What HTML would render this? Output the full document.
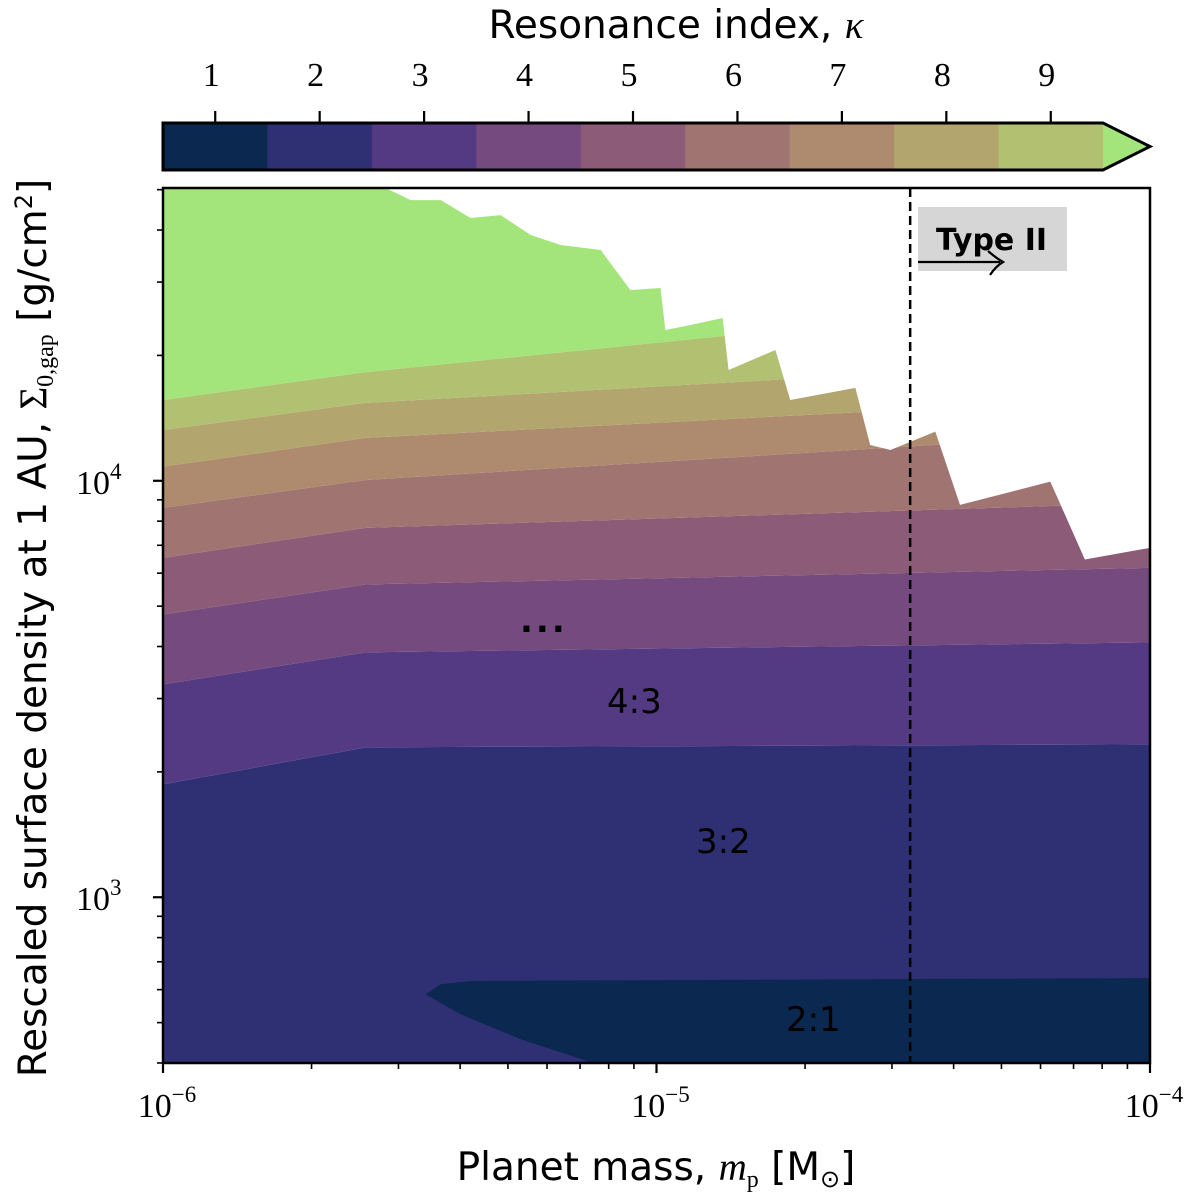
<!DOCTYPE html>
<html><head><meta charset="utf-8"><style>
html,body{margin:0;padding:0;background:#fff;}
svg{display:block;}
.tk{font-family:"Liberation Serif",serif;font-size:34px;fill:#000;}
.sup{font-size:23px;}
.lab{font-family:"DejaVu Sans","Liberation Sans",sans-serif;font-size:39px;fill:#000;}
.ann{font-family:"DejaVu Sans","Liberation Sans",sans-serif;font-size:34px;fill:#000;}
</style></head><body>
<svg id="chart" width="1200" height="1203" viewBox="0 0 1200 1203" xmlns="http://www.w3.org/2000/svg">
<defs><clipPath id="envClip"><path id="envPath" d=""/></clipPath>
<clipPath id="plotClip"><rect x="163" y="188" width="987" height="875"/></clipPath></defs>
<g id="bands" clip-path="url(#plotClip)"></g>
<g id="annots"></g>
<g>
<rect x="918" y="207" width="149" height="64" fill="#d6d6d6"/>
<text x="936" y="250" style="font-family:'DejaVu Sans','Liberation Sans',sans-serif;font-size:30px;font-weight:bold;" fill="#000">Type II</text>
<line x1="918" y1="262" x2="1000" y2="262" stroke="#000" stroke-width="2.2"/>
<path d="M988,251 Q996,258 1003,262 Q996,266 990,275" fill="none" stroke="#000" stroke-width="2.2"/>
</g>
<text class="ann" x="520" y="632" style="font-weight:bold;letter-spacing:3px">...</text>
<text class="ann" x="607" y="713">4:3</text>
<text class="ann" x="696" y="853">3:2</text>
<text class="ann" x="786" y="1031">2:1</text>
<g id="axes"></g>
<g id="cbar"></g>
<text class="lab" x="676" y="38" text-anchor="middle">Resonance index, <tspan font-family="Liberation Serif" font-style="italic">κ</tspan></text>
<text class="lab" x="656" y="1180" text-anchor="middle">Planet mass, <tspan font-family="Liberation Serif" font-style="italic">m</tspan><tspan font-family="Liberation Serif" font-size="24" dy="7">p</tspan><tspan dy="-7"> [M</tspan><tspan font-size="24" dy="7">⊙</tspan><tspan dy="-7">]</tspan></text>
<text class="lab" transform="translate(46,628) rotate(-90)" text-anchor="middle">Rescaled surface density at 1 AU, <tspan font-family="Liberation Serif">Σ</tspan><tspan font-family="Liberation Serif" font-size="24" dy="7">0,gap</tspan><tspan dy="-7">  [g/cm</tspan><tspan font-size="24" dy="-14">2</tspan><tspan dy="14">]</tspan></text>
</svg>
<script>
// ---- data (log10 mass [Msun], log10 Sigma [g/cm^2]) ----
const boundaryLogM = [-6, -5.589, -4];
const bound23 = [3.271, 3.360, 3.367];
const bound34 = [3.511, 3.588, 3.612];
const bound45 = [3.679, 3.751, 3.791];
const bound56 = [3.815, 3.887, 3.947];
const bound67 = [3.935, 4.002, 4.118];
const bound78 = [4.034, 4.103, 4.201];
const bound89 = [4.122, 4.187, 4.293];
const bound910 = [4.194, 4.261, 4.451];
const envelopeLogM = [-6,-5.549,-5.498,-5.437,-5.377,-5.316,-5.255,-5.194,-5.113,-5.053,-4.992,-4.982,-4.931,-4.866,-4.854,-4.759,-4.729,-4.597,-4.567,-4.526,-4.435,-4.385,-4.202,-4.132,-4];
const envelopeLogS = [4.703,4.703,4.674,4.674,4.631,4.638,4.590,4.566,4.554,4.458,4.463,4.362,4.374,4.391,4.266,4.314,4.194,4.223,4.086,4.074,4.118,3.942,3.998,3.811,3.839];
const region21LogM = [-5.468,-5.437,-5.377,-4,-4,-5.134,-5.275,-5.397];
const region21LogS = [2.767,2.791,2.799,2.806,2.604,2.604,2.659,2.719];
const typeIILogM = -4.486;
const cbarTicks = ["1","2","3","4","5","6","7","8","9"];
const bandColors = ["#0b2850","#2f2f74","#533a82","#744a7f","#8b5b78","#a07470","#ae8b6e","#b2a56e","#b2c072","#a3e57a"];
const xMajorExp = [-6,-5,-4];
const yMajorExp = [3,4];

const X0=163,X1=1150,Y0=188,Y1=1063;
const xMin=-6,xMax=-4,yMin=2.602,yMax=4.703;
const xs=v=>X0+(v-xMin)/(xMax-xMin)*(X1-X0);
const ys=v=>Y1-(v-yMin)/(yMax-yMin)*(Y1-Y0);
const NS="http://www.w3.org/2000/svg";
function mk(tag,parent,attrs){const e=document.createElementNS(NS,tag);for(const k in attrs)e.setAttribute(k,attrs[k]);parent.appendChild(e);return e;}

let d="M"+envelopeLogM.map((m,i)=>xs(m)+","+ys(envelopeLogS[i])).join(" L")+" L"+xs(-4)+","+(Y1+5)+" L"+xs(-6)+","+(Y1+5)+" Z";
document.getElementById('envPath').setAttribute('d',d);

const bandsG=document.getElementById('bands');
const envG=mk('g',bandsG,{'clip-path':'url(#envClip)'});
const bounds=[null,bound23,bound34,bound45,bound56,bound67,bound78,bound89,bound910,null];
function line(arr,fallbackY){return boundaryLogM.map((m,i)=>[xs(m),arr?ys(arr[i]):fallbackY]);}
for(let k=1;k<10;k++){
  const lower=line(bounds[k-1],Y1+5), upper=line(bounds[k],Y0-5);
  const pts=lower.concat(upper.slice().reverse());
  const p=mk('polygon',envG,{points:pts.map(q=>q.join(',')).join(' '),fill:bandColors[k]});
  
  
}
const r21=mk('polygon',bandsG,{points:region21LogM.map((m,i)=>xs(m)+","+ys(region21LogS[i])).join(' '),fill:bandColors[0]});



const ann=document.getElementById('annots');
const tx=xs(typeIILogM);
const dl=mk('line',ann,{x1:tx,y1:Y0,x2:tx,y2:Y1,stroke:'#000','stroke-width':2.5,'stroke-dasharray':'9,5'});



const ax=document.getElementById('axes');
const frame=mk('rect',ax,{x:X0,y:Y0,width:X1-X0,height:Y1-Y0,fill:'none',stroke:'#000','stroke-width':2.5});


for(let e=-6;e<=-4;e++){
  for(let m=1;m<10;m++){
    const v=e+Math.log10(m); if(v>xMax+1e-9)break;
    const x=xs(v), len=m===1?10:6;
    mk('line',ax,{x1:x,y1:Y1,x2:x,y2:Y1+len,stroke:'#000','stroke-width':m===1?2.2:1.6});
  }
}
xMajorExp.forEach(e=>{
  const t=mk('text',ax,{x:xs(e)+4,y:1117,'text-anchor':'middle',class:'tk'});
  
  
  t.appendChild(document.createTextNode('10'));
  const s=mk('tspan',t,{class:'sup',dy:-15});
  s.textContent='−'+(-e);
});
for(let e=2;e<=4;e++){
  for(let m=1;m<10;m++){
    const v=e+Math.log10(m); if(v<yMin||v>yMax)continue;
    const y=ys(v), len=m===1?10:6;
    mk('line',ax,{x1:X0,y1:y,x2:X0-len,y2:y,stroke:'#000','stroke-width':m===1?2.2:1.6});
  }
}
yMajorExp.forEach(e=>{
  const t=mk('text',ax,{x:76,y:ys(e)+13,class:'tk'});
  
  
  t.appendChild(document.createTextNode('10'));
  const s=mk('tspan',t,{class:'sup',dy:-15});
  s.textContent=String(e);
});
const cb=document.getElementById('cbar');
const CX0=163,CX1=1103,CY0=123,CY1=170,bw=(CX1-CX0)/9;
for(let i=0;i<9;i++){
  const r=mk('rect',cb,{x:CX0+i*bw,y:CY0,width:bw+0.5,height:CY1-CY0,fill:bandColors[i]});
  
  
  const cx=CX0+(i+0.5)*bw;
  mk('line',cb,{x1:cx,y1:CY0,x2:cx,y2:CY0-12,stroke:'#000','stroke-width':2.2});
  const t=mk('text',cb,{x:cx-4,y:86,'text-anchor':'middle',class:'tk'});
  
  
  t.textContent=cbarTicks[i];
}
const tri=mk('polygon',cb,{points:`${CX1},${CY0} ${CX1+47},${(CY0+CY1)/2} ${CX1},${CY1}`,fill:bandColors[9]});


const out=mk('path',cb,{d:`M${CX0},${CY0} L${CX1},${CY0} L${CX1+47},${(CY0+CY1)/2} L${CX1},${CY1} L${CX0},${CY1} Z`,fill:'none',stroke:'#000','stroke-width':3});


</script>
</body></html>
